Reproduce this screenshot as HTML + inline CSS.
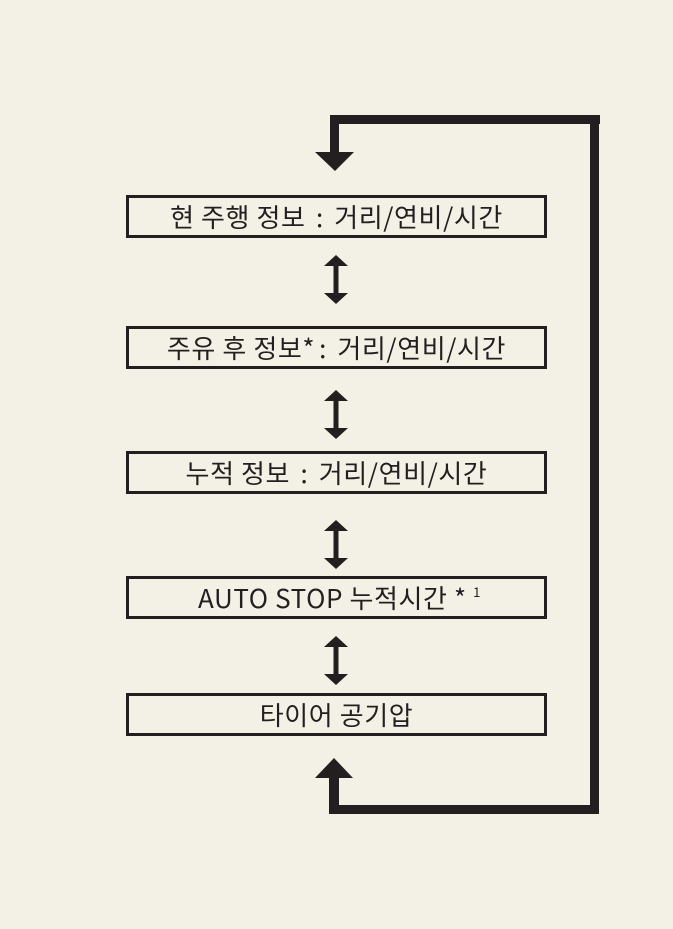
<!DOCTYPE html>
<html><head><meta charset="utf-8"><style>
body{margin:0;width:673px;height:929px;background:#f3f0e5;position:relative;overflow:hidden;font-family:"Noto Sans CJK KR","Liberation Sans",sans-serif;}
.b{position:absolute;left:126px;width:415px;height:37px;border:3.5px solid #231f20;box-sizing:content-box;text-align:center;line-height:37px;font-size:26px;letter-spacing:0.6px;color:#231f20;white-space:nowrap;}
.c{padding:0 4px;}
sup{font-size:13px;line-height:0;vertical-align:11px;}
</style></head><body>
<svg width="673" height="929" style="position:absolute;left:0;top:0">
<g fill="#231f20">
<rect x="330" y="115" width="270" height="9"/>
<rect x="590" y="115" width="9" height="699"/>
<rect x="330" y="115" width="9" height="40"/>
<polygon points="315,152 354,152 335,171"/>
<rect x="329" y="805" width="270" height="9"/>
<rect x="329" y="775" width="10" height="39"/>
<polygon points="315,778 353,778 334,758"/>
<g id="d">
<rect x="333.5" y="262" width="5" height="36"/>
<polygon points="324,266 348,266 336,255"/>
<polygon points="324,293 348,293 336,304"/>
</g>
<use href="#d" transform="translate(0,135)"/>
<use href="#d" transform="translate(0,265)"/>
<use href="#d" transform="translate(0,381)"/>
</g>
</svg>
<div class="b" style="top:195px">현 주행 정보 <span class="c">:</span> 거리/연비/시간</div>
<div class="b" style="top:326px">주유 후 정보*<span class="c">:</span> 거리/연비/시간</div>
<div class="b" style="top:451px">누적 정보 <span class="c">:</span> 거리/연비/시간</div>
<div class="b" style="top:576px;padding-left:6px;width:409px">AUTO STOP 누적시간 * <sup>1</sup></div>
<div class="b" style="top:693px">타이어 공기압</div>
</body></html>
